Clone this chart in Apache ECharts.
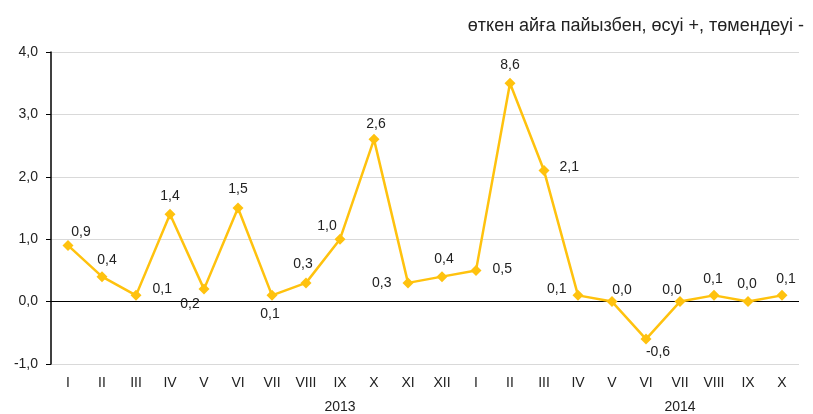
<!DOCTYPE html>
<html lang="kk">
<head>
    <meta charset="UTF-8">
    <title>Баға индексі</title>
    <script src="https://cdn.jsdelivr.net/npm/echarts@6/dist/echarts.min.js"></script>
    <style>
        html, body { margin: 0; padding: 0; background: #fff; }
        #chart { width: 813px; height: 414px; }
    </style>
</head>
<body>
    <div id="chart"></div>
    <script>
        // айлар (2013 I–XII, 2014 I–X)
        const months = ['I','II','III','IV','V','VI','VII','VIII','IX','X','XI','XII',
                        'I','II','III','IV','V','VI','VII','VIII','IX','X'];
        const years = ['','','','','','','','','2013','','','',
                       '','','','','','','2014','','',''];
        // нүкте биіктігі (графикте)
        const values = [0.9, 0.4, 0.1, 1.4, 0.2, 1.5, 0.1, 0.3, 1.0, 2.6, 0.3, 0.4,
                        0.5, 3.5, 2.1, 0.1, 0.0, -0.6, 0.0, 0.1, 0.0, 0.1];
        // жазылған мәндер
        const valueLabels = ['0,9','0,4','0,1','1,4','0,2','1,5','0,1','0,3','1,0','2,6','0,3','0,4',
                             '0,5','8,6','2,1','0,1','0,0','-0,6','0,0','0,1','0,0','0,1'];
        const yTicks = [-1, 0, 1, 2, 3, 4];

        // жазу орындары [position, offset]
        const labelPos = [
            ['top', [13, 6]], ['top', [5, 3]], ['right', [4, -6]], ['top', [0, 1]],
            ['bottom', [-14, -4]], ['top', [0, 1]], ['bottom', [-2, -1]], ['top', [-3, 1]],
            ['top', [-13, 6]], ['top', [2, 4]], ['left', [-4, 0]], ['top', [2, 2]],
            ['right', [4, -1]], ['top', [0, 1]], ['right', [3, -3]], ['left', [1, -6]],
            ['top', [10, 8]], ['bottom', [12, -6]], ['top', [-8, 8]], ['top', [-1, 3]],
            ['top', [-1, 2]], ['top', [4, 3]]
        ];

        const font = 'Liberation Sans';
        const textColor = '#222';
        const gold = '#FFC20E';

        const chart = echarts.init(document.getElementById('chart'));

        const seriesData = values.map((v, i) => ({
            value: v,
            label: {
                show: true,
                formatter: valueLabels[i],
                position: labelPos[i][0],
                offset: labelPos[i][1],
                distance: 7
            }
        }));

        const option = {
            animation: false,
            textStyle: { fontFamily: font },
            title: {
                text: 'өткен айға пайызбен, өсуі +, төмендеуі -',
                right: 4,
                top: 12,
                textStyle: { fontSize: 18, fontWeight: 'normal', color: textColor, fontFamily: font }
            },
            grid: { left: 51, right: 14, top: 52, bottom: 48 },
            xAxis: [
                {
                    type: 'category',
                    data: months,
                    position: 'bottom',
                    axisLine: { show: false, onZero: false },
                    axisTick: { show: false },
                    axisLabel: { interval: 0, fontSize: 14, color: textColor, margin: 12 }
                },
                {
                    type: 'category',
                    data: years,
                    position: 'bottom',
                    offset: 24,
                    axisLine: { show: false },
                    axisTick: { show: false },
                    axisLabel: { interval: 0, fontSize: 14, color: textColor, margin: 12 }
                }
            ],
            yAxis: {
                type: 'value',
                min: yTicks[0],
                max: yTicks[yTicks.length - 1],
                interval: 1,
                axisLine: { show: true, lineStyle: { color: '#000', width: 1.5 } },
                axisTick: { show: true, length: 5, lineStyle: { color: '#000' } },
                axisLabel: {
                    fontSize: 14,
                    color: textColor,
                    margin: 13,
                    formatter: v => v.toFixed(1).replace('.', ',')
                },
                splitLine: { show: true, lineStyle: { color: '#d9d9d9', width: 1 } }
            },
            series: [
                {
                    type: 'line',
                    data: seriesData,
                    xAxisIndex: 0,
                    symbol: 'diamond',
                    symbolSize: 11,
                    itemStyle: { color: gold },
                    lineStyle: { color: gold, width: 2.5 },
                    label: { fontSize: 14, color: textColor, fontFamily: font },
                    markLine: {
                        silent: true,
                        symbol: 'none',
                        label: { show: false },
                        lineStyle: { color: '#000', width: 1, type: 'solid' },
                        data: [{ yAxis: 0 }],
                        z: 1
                    },
                    z: 3
                }
            ]
        };

        chart.setOption(option);
    </script>
</body>
</html>
